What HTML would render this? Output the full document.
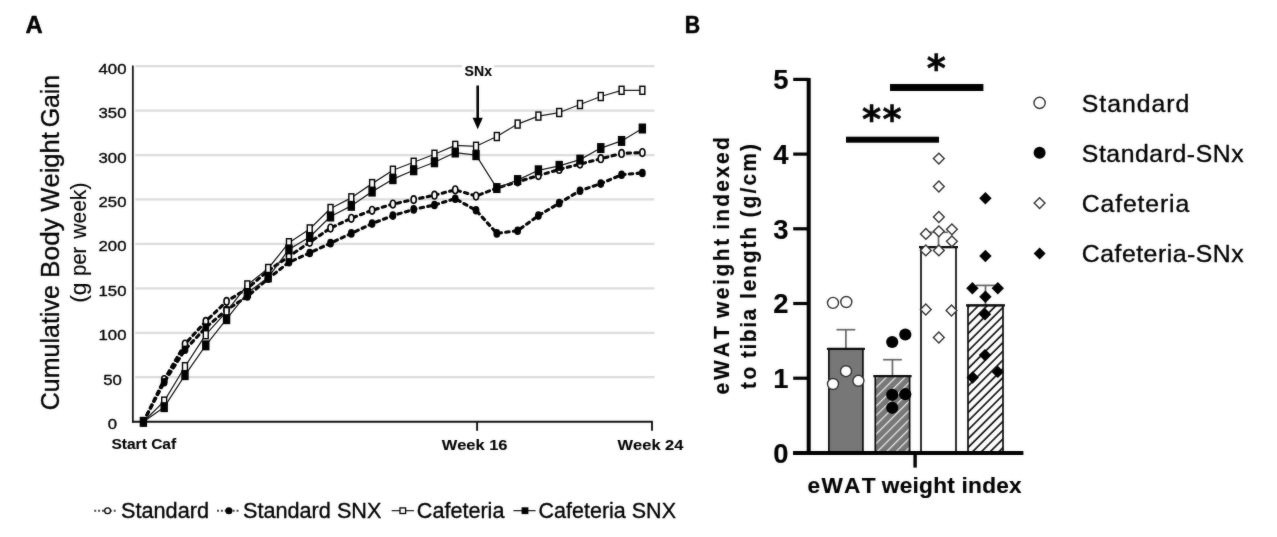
<!DOCTYPE html>
<html lang="en">
<head>
<meta charset="utf-8">
<title>Cumulative body weight gain and eWAT weight index</title>
<style>
html, body { margin: 0; padding: 0; background: #fff; }
body { width: 1277px; height: 537px; overflow: hidden; font-family: "Liberation Sans", sans-serif; }
svg { display: block; }
svg text { font-family: "Liberation Sans", sans-serif; fill: #000; font-kerning: none; stroke: #000; stroke-width: 0.35px; stroke-linejoin: round; }
.panel { font-size: 24.4px; font-weight: bold; stroke-width: 0.5px; }
.ytA { font-size: 15.4px; stroke-width: 0.35px; }
.xlA { font-size: 15.2px; font-weight: bold; stroke-width: 0.1px; }
.ytitleA { font-size: 26.5px; }
.ysubA { font-size: 21.4px; stroke-width: 0.15px; }
.legA { font-size: 22.2px; }
.ytB { font-size: 27.4px; font-weight: bold; stroke-width: 0.15px; }
.xtB { font-size: 21.4px; font-weight: bold; stroke-width: 0.15px; }
.ytitleB { font-size: 21.6px; font-weight: bold; stroke-width: 0.15px; }
.legB { font-size: 24.8px; }
.star { font-family: "DejaVu Sans", "Liberation Sans", sans-serif; font-size: 36.5px; font-weight: bold; stroke: #000; stroke-width: 0.5px; }
</style>
</head>
<body>
<svg width="1277" height="537" viewBox="0 0 1277 537" role="img" aria-label="Figure with panels A and B">
<defs>
<filter id="soft" x="0" y="0" width="1277" height="537" filterUnits="userSpaceOnUse" color-interpolation-filters="sRGB">
<feGaussianBlur in="SourceGraphic" stdDeviation="0.8" result="b"/>
<feComposite in="b" in2="SourceGraphic" operator="arithmetic" k1="0" k2="0.3" k3="0.70" k4="0"/>
</filter>
<pattern id="hatchG" patternUnits="userSpaceOnUse" width="6.6" height="6.6" patternTransform="rotate(45)">
<rect width="6.6" height="6.6" fill="#777777"/>
<rect x="2" y="0" width="1.05" height="6.6" fill="#fff"/>
</pattern>
<pattern id="hatchW" patternUnits="userSpaceOnUse" width="6.2" height="6.2" patternTransform="rotate(45)">
<rect width="6.2" height="6.2" fill="#fff"/>
<rect x="2" y="0" width="1.6" height="6.2" fill="#000"/>
</pattern>
</defs>
<rect width="1277" height="537" fill="#fff"/>
<g filter="url(#soft)">
<rect width="1277" height="537" fill="#fff"/>
<g id="panelA">
<line x1="135.29999999999998" x2="654.5" y1="377.21" y2="377.21" stroke="#dcdcdc" stroke-width="2.3"/>
<line x1="135.29999999999998" x2="654.5" y1="332.78" y2="332.78" stroke="#dcdcdc" stroke-width="2.3"/>
<line x1="135.29999999999998" x2="654.5" y1="288.34" y2="288.34" stroke="#dcdcdc" stroke-width="2.3"/>
<line x1="135.29999999999998" x2="654.5" y1="243.90" y2="243.90" stroke="#dcdcdc" stroke-width="2.3"/>
<line x1="135.29999999999998" x2="654.5" y1="199.46" y2="199.46" stroke="#dcdcdc" stroke-width="2.3"/>
<line x1="135.29999999999998" x2="654.5" y1="155.03" y2="155.03" stroke="#dcdcdc" stroke-width="2.3"/>
<line x1="135.29999999999998" x2="654.5" y1="110.59" y2="110.59" stroke="#dcdcdc" stroke-width="2.3"/>
<line x1="135.29999999999998" x2="654.5" y1="66.15" y2="66.15" stroke="#dcdcdc" stroke-width="2.3"/>
<rect x="462" y="62" width="32" height="17" fill="#fff"/>
<rect x="474.6" y="84" width="6.4" height="36" fill="#fff"/>
<line x1="132.85" x2="132.85" y1="65.6" y2="422.7" stroke="#151515" stroke-width="1.8"/>
<line x1="132.0" x2="652.9" y1="421.8" y2="421.8" stroke="#111" stroke-width="2.1"/>
<line x1="477.1" x2="477.1" y1="421.8" y2="430.8" stroke="#111" stroke-width="1.9"/>
<line x1="652.0" x2="652.0" y1="421.8" y2="430.8" stroke="#111" stroke-width="1.9"/>
<text x="107.85" y="429.20" class="ytA" textLength="9.30" lengthAdjust="spacingAndGlyphs">0</text>
<text x="103.20" y="384.76" class="ytA" textLength="18.60" lengthAdjust="spacingAndGlyphs">50</text>
<text x="98.55" y="340.32" class="ytA" textLength="27.90" lengthAdjust="spacingAndGlyphs">100</text>
<text x="98.55" y="295.89" class="ytA" textLength="27.90" lengthAdjust="spacingAndGlyphs">150</text>
<text x="98.55" y="251.45" class="ytA" textLength="27.90" lengthAdjust="spacingAndGlyphs">200</text>
<text x="98.55" y="207.01" class="ytA" textLength="27.90" lengthAdjust="spacingAndGlyphs">250</text>
<text x="98.55" y="162.58" class="ytA" textLength="27.90" lengthAdjust="spacingAndGlyphs">300</text>
<text x="98.55" y="118.14" class="ytA" textLength="27.90" lengthAdjust="spacingAndGlyphs">350</text>
<text x="98.55" y="73.70" class="ytA" textLength="27.90" lengthAdjust="spacingAndGlyphs">400</text>
<polyline points="143.40,421.80 164.19,379.58 184.98,344.03 205.77,321.37 226.56,301.37 247.35,288.49 268.14,270.71 288.93,256.49 309.72,242.27 330.51,228.05 351.30,218.28 372.09,210.28 392.88,204.06 413.67,199.61 434.46,195.17 455.25,189.84 476.04,196.06 496.83,188.06 517.62,181.84 538.41,175.62 559.20,169.40 579.99,164.06 600.78,158.73 621.57,153.40 642.36,152.51" fill="none" stroke="#000" stroke-width="3.1" stroke-dasharray="3.4 4.3" stroke-linecap="round" stroke-linejoin="round"/>
<ellipse cx="143.40" cy="421.80" rx="2.55" ry="3.8" fill="#fff" stroke="#000" stroke-width="1.65"/>
<ellipse cx="164.19" cy="379.58" rx="2.55" ry="3.8" fill="#fff" stroke="#000" stroke-width="1.65"/>
<ellipse cx="184.98" cy="344.03" rx="2.55" ry="3.8" fill="#fff" stroke="#000" stroke-width="1.65"/>
<ellipse cx="205.77" cy="321.37" rx="2.55" ry="3.8" fill="#fff" stroke="#000" stroke-width="1.65"/>
<ellipse cx="226.56" cy="301.37" rx="2.55" ry="3.8" fill="#fff" stroke="#000" stroke-width="1.65"/>
<ellipse cx="247.35" cy="288.49" rx="2.55" ry="3.8" fill="#fff" stroke="#000" stroke-width="1.65"/>
<ellipse cx="268.14" cy="270.71" rx="2.55" ry="3.8" fill="#fff" stroke="#000" stroke-width="1.65"/>
<ellipse cx="288.93" cy="256.49" rx="2.55" ry="3.8" fill="#fff" stroke="#000" stroke-width="1.65"/>
<ellipse cx="309.72" cy="242.27" rx="2.55" ry="3.8" fill="#fff" stroke="#000" stroke-width="1.65"/>
<ellipse cx="330.51" cy="228.05" rx="2.55" ry="3.8" fill="#fff" stroke="#000" stroke-width="1.65"/>
<ellipse cx="351.30" cy="218.28" rx="2.55" ry="3.8" fill="#fff" stroke="#000" stroke-width="1.65"/>
<ellipse cx="372.09" cy="210.28" rx="2.55" ry="3.8" fill="#fff" stroke="#000" stroke-width="1.65"/>
<ellipse cx="392.88" cy="204.06" rx="2.55" ry="3.8" fill="#fff" stroke="#000" stroke-width="1.65"/>
<ellipse cx="413.67" cy="199.61" rx="2.55" ry="3.8" fill="#fff" stroke="#000" stroke-width="1.65"/>
<ellipse cx="434.46" cy="195.17" rx="2.55" ry="3.8" fill="#fff" stroke="#000" stroke-width="1.65"/>
<ellipse cx="455.25" cy="189.84" rx="2.55" ry="3.8" fill="#fff" stroke="#000" stroke-width="1.65"/>
<ellipse cx="476.04" cy="196.06" rx="2.55" ry="3.8" fill="#fff" stroke="#000" stroke-width="1.65"/>
<ellipse cx="496.83" cy="188.06" rx="2.55" ry="3.8" fill="#fff" stroke="#000" stroke-width="1.65"/>
<ellipse cx="517.62" cy="181.84" rx="2.55" ry="3.8" fill="#fff" stroke="#000" stroke-width="1.65"/>
<ellipse cx="538.41" cy="175.62" rx="2.55" ry="3.8" fill="#fff" stroke="#000" stroke-width="1.65"/>
<ellipse cx="559.20" cy="169.40" rx="2.55" ry="3.8" fill="#fff" stroke="#000" stroke-width="1.65"/>
<ellipse cx="579.99" cy="164.06" rx="2.55" ry="3.8" fill="#fff" stroke="#000" stroke-width="1.65"/>
<ellipse cx="600.78" cy="158.73" rx="2.55" ry="3.8" fill="#fff" stroke="#000" stroke-width="1.65"/>
<ellipse cx="621.57" cy="153.40" rx="2.55" ry="3.8" fill="#fff" stroke="#000" stroke-width="1.65"/>
<ellipse cx="642.36" cy="152.51" rx="2.55" ry="3.8" fill="#fff" stroke="#000" stroke-width="1.65"/>
<polyline points="143.40,421.80 164.19,382.25 184.98,349.81 205.77,327.59 226.56,309.82 247.35,296.49 268.14,278.71 288.93,262.27 309.72,252.94 330.51,243.16 351.30,233.39 372.09,223.61 392.88,215.61 413.67,209.39 434.46,204.95 455.25,198.72 476.04,210.28 496.83,233.39 517.62,230.72 538.41,215.61 559.20,203.17 579.99,190.73 600.78,183.62 621.57,174.73 642.36,172.95" fill="none" stroke="#000" stroke-width="3.1" stroke-dasharray="3.4 4.3" stroke-linecap="round" stroke-linejoin="round"/>
<ellipse cx="143.40" cy="421.80" rx="3.4" ry="4.3" fill="#000"/>
<ellipse cx="164.19" cy="382.25" rx="3.4" ry="4.3" fill="#000"/>
<ellipse cx="184.98" cy="349.81" rx="3.4" ry="4.3" fill="#000"/>
<ellipse cx="205.77" cy="327.59" rx="3.4" ry="4.3" fill="#000"/>
<ellipse cx="226.56" cy="309.82" rx="3.4" ry="4.3" fill="#000"/>
<ellipse cx="247.35" cy="296.49" rx="3.4" ry="4.3" fill="#000"/>
<ellipse cx="268.14" cy="278.71" rx="3.4" ry="4.3" fill="#000"/>
<ellipse cx="288.93" cy="262.27" rx="3.4" ry="4.3" fill="#000"/>
<ellipse cx="309.72" cy="252.94" rx="3.4" ry="4.3" fill="#000"/>
<ellipse cx="330.51" cy="243.16" rx="3.4" ry="4.3" fill="#000"/>
<ellipse cx="351.30" cy="233.39" rx="3.4" ry="4.3" fill="#000"/>
<ellipse cx="372.09" cy="223.61" rx="3.4" ry="4.3" fill="#000"/>
<ellipse cx="392.88" cy="215.61" rx="3.4" ry="4.3" fill="#000"/>
<ellipse cx="413.67" cy="209.39" rx="3.4" ry="4.3" fill="#000"/>
<ellipse cx="434.46" cy="204.95" rx="3.4" ry="4.3" fill="#000"/>
<ellipse cx="455.25" cy="198.72" rx="3.4" ry="4.3" fill="#000"/>
<ellipse cx="476.04" cy="210.28" rx="3.4" ry="4.3" fill="#000"/>
<ellipse cx="496.83" cy="233.39" rx="3.4" ry="4.3" fill="#000"/>
<ellipse cx="517.62" cy="230.72" rx="3.4" ry="4.3" fill="#000"/>
<ellipse cx="538.41" cy="215.61" rx="3.4" ry="4.3" fill="#000"/>
<ellipse cx="559.20" cy="203.17" rx="3.4" ry="4.3" fill="#000"/>
<ellipse cx="579.99" cy="190.73" rx="3.4" ry="4.3" fill="#000"/>
<ellipse cx="600.78" cy="183.62" rx="3.4" ry="4.3" fill="#000"/>
<ellipse cx="621.57" cy="174.73" rx="3.4" ry="4.3" fill="#000"/>
<ellipse cx="642.36" cy="172.95" rx="3.4" ry="4.3" fill="#000"/>
<polyline points="143.40,421.80 164.19,401.18 184.98,366.70 205.77,334.70 226.56,311.60 247.35,284.93 268.14,268.49 288.93,242.72 309.72,228.94 330.51,208.50 351.30,197.84 372.09,183.62 392.88,170.28 413.67,162.29 434.46,154.29 455.25,145.40 476.04,146.29 496.83,136.51 517.62,124.07 538.41,116.07 559.20,112.51 579.99,104.52 600.78,96.52 621.57,90.30 642.36,90.30" fill="none" stroke="#1a1a1a" stroke-width="1.25" stroke-linejoin="round"/>
<rect x="140.95" y="417.80" width="4.9" height="8.0" fill="#fff" stroke="#000" stroke-width="1.45"/>
<rect x="161.74" y="397.18" width="4.9" height="8.0" fill="#fff" stroke="#000" stroke-width="1.45"/>
<rect x="182.53" y="362.70" width="4.9" height="8.0" fill="#fff" stroke="#000" stroke-width="1.45"/>
<rect x="203.32" y="330.70" width="4.9" height="8.0" fill="#fff" stroke="#000" stroke-width="1.45"/>
<rect x="224.11" y="307.60" width="4.9" height="8.0" fill="#fff" stroke="#000" stroke-width="1.45"/>
<rect x="244.90" y="280.93" width="4.9" height="8.0" fill="#fff" stroke="#000" stroke-width="1.45"/>
<rect x="265.69" y="264.49" width="4.9" height="8.0" fill="#fff" stroke="#000" stroke-width="1.45"/>
<rect x="286.48" y="238.72" width="4.9" height="8.0" fill="#fff" stroke="#000" stroke-width="1.45"/>
<rect x="307.27" y="224.94" width="4.9" height="8.0" fill="#fff" stroke="#000" stroke-width="1.45"/>
<rect x="328.06" y="204.50" width="4.9" height="8.0" fill="#fff" stroke="#000" stroke-width="1.45"/>
<rect x="348.85" y="193.84" width="4.9" height="8.0" fill="#fff" stroke="#000" stroke-width="1.45"/>
<rect x="369.64" y="179.62" width="4.9" height="8.0" fill="#fff" stroke="#000" stroke-width="1.45"/>
<rect x="390.43" y="166.28" width="4.9" height="8.0" fill="#fff" stroke="#000" stroke-width="1.45"/>
<rect x="411.22" y="158.29" width="4.9" height="8.0" fill="#fff" stroke="#000" stroke-width="1.45"/>
<rect x="432.01" y="150.29" width="4.9" height="8.0" fill="#fff" stroke="#000" stroke-width="1.45"/>
<rect x="452.80" y="141.40" width="4.9" height="8.0" fill="#fff" stroke="#000" stroke-width="1.45"/>
<rect x="473.59" y="142.29" width="4.9" height="8.0" fill="#fff" stroke="#000" stroke-width="1.45"/>
<rect x="494.38" y="132.51" width="4.9" height="8.0" fill="#fff" stroke="#000" stroke-width="1.45"/>
<rect x="515.17" y="120.07" width="4.9" height="8.0" fill="#fff" stroke="#000" stroke-width="1.45"/>
<rect x="535.96" y="112.07" width="4.9" height="8.0" fill="#fff" stroke="#000" stroke-width="1.45"/>
<rect x="556.75" y="108.51" width="4.9" height="8.0" fill="#fff" stroke="#000" stroke-width="1.45"/>
<rect x="577.54" y="100.52" width="4.9" height="8.0" fill="#fff" stroke="#000" stroke-width="1.45"/>
<rect x="598.33" y="92.52" width="4.9" height="8.0" fill="#fff" stroke="#000" stroke-width="1.45"/>
<rect x="619.12" y="86.30" width="4.9" height="8.0" fill="#fff" stroke="#000" stroke-width="1.45"/>
<rect x="639.91" y="86.30" width="4.9" height="8.0" fill="#fff" stroke="#000" stroke-width="1.45"/>
<polyline points="143.40,421.80 164.19,407.14 184.98,375.14 205.77,345.37 226.56,319.15 247.35,292.93 268.14,277.38 288.93,249.38 309.72,236.94 330.51,216.50 351.30,205.83 372.09,191.61 392.88,179.17 413.67,170.28 434.46,162.29 455.25,152.51 476.04,155.18 496.83,188.06 517.62,180.06 538.41,170.28 559.20,165.84 579.99,159.62 600.78,148.06 621.57,140.95 642.36,128.51" fill="none" stroke="#1a1a1a" stroke-width="1.25" stroke-linejoin="round"/>
<rect x="139.70" y="416.80" width="7.4" height="10.0" fill="#000"/>
<rect x="160.49" y="402.14" width="7.4" height="10.0" fill="#000"/>
<rect x="181.28" y="370.14" width="7.4" height="10.0" fill="#000"/>
<rect x="202.07" y="340.37" width="7.4" height="10.0" fill="#000"/>
<rect x="222.86" y="314.15" width="7.4" height="10.0" fill="#000"/>
<rect x="243.65" y="287.93" width="7.4" height="10.0" fill="#000"/>
<rect x="264.44" y="272.38" width="7.4" height="10.0" fill="#000"/>
<rect x="285.23" y="244.38" width="7.4" height="10.0" fill="#000"/>
<rect x="306.02" y="231.94" width="7.4" height="10.0" fill="#000"/>
<rect x="326.81" y="211.50" width="7.4" height="10.0" fill="#000"/>
<rect x="347.60" y="200.83" width="7.4" height="10.0" fill="#000"/>
<rect x="368.39" y="186.61" width="7.4" height="10.0" fill="#000"/>
<rect x="389.18" y="174.17" width="7.4" height="10.0" fill="#000"/>
<rect x="409.97" y="165.28" width="7.4" height="10.0" fill="#000"/>
<rect x="430.76" y="157.29" width="7.4" height="10.0" fill="#000"/>
<rect x="451.55" y="147.51" width="7.4" height="10.0" fill="#000"/>
<rect x="472.34" y="150.18" width="7.4" height="10.0" fill="#000"/>
<rect x="493.13" y="183.06" width="7.4" height="10.0" fill="#000"/>
<rect x="513.92" y="175.06" width="7.4" height="10.0" fill="#000"/>
<rect x="534.71" y="165.28" width="7.4" height="10.0" fill="#000"/>
<rect x="555.50" y="160.84" width="7.4" height="10.0" fill="#000"/>
<rect x="576.29" y="154.62" width="7.4" height="10.0" fill="#000"/>
<rect x="597.08" y="143.06" width="7.4" height="10.0" fill="#000"/>
<rect x="617.87" y="135.95" width="7.4" height="10.0" fill="#000"/>
<rect x="638.66" y="123.51" width="7.4" height="10.0" fill="#000"/>
<line x1="477.7" x2="477.7" y1="85.5" y2="120" stroke="#000" stroke-width="2.6"/>
<polygon points="472.6,117.8 482.8,117.8 477.7,129.2" fill="#000"/>
<text x="464.6" y="76.2" class="xlA" textLength="27.4" lengthAdjust="spacingAndGlyphs">SNx</text>
<text x="111.4" y="448.9" class="xlA" textLength="64.8" lengthAdjust="spacingAndGlyphs">Start Caf</text>
<text x="441.7" y="450.4" class="xlA" textLength="65.8" lengthAdjust="spacingAndGlyphs">Week 16</text>
<text x="617.6" y="450.4" class="xlA" textLength="65.8" lengthAdjust="spacingAndGlyphs">Week 24</text>
<text transform="translate(59.3,0) rotate(-90)" y="0" class="ytitleA"><tspan x="-410.30" textLength="125.10" lengthAdjust="spacingAndGlyphs">Cumulative</tspan> <tspan x="-277.90" textLength="59.80" lengthAdjust="spacingAndGlyphs">Body</tspan> <tspan x="-211.70" textLength="79.60" lengthAdjust="spacingAndGlyphs">Weight</tspan> <tspan x="-127.30" textLength="52.50" lengthAdjust="spacingAndGlyphs">Gain</tspan></text>
<text transform="translate(85.8,0) rotate(-90)" y="0" class="ysubA"><tspan x="-302.80" textLength="20.40" lengthAdjust="spacingAndGlyphs">(g</tspan> <tspan x="-275.70" textLength="28.90" lengthAdjust="spacingAndGlyphs">per</tspan> <tspan x="-238.80" textLength="56.20" lengthAdjust="spacingAndGlyphs">week)</tspan></text>
<text x="25.4" y="33.0" class="panel" textLength="17.2" lengthAdjust="spacingAndGlyphs">A</text>
<line x1="94.2" x2="117.2" y1="510.7" y2="510.7" stroke="#444" stroke-width="2.0" stroke-dasharray="2.0 1.9"/><circle cx="107.6" cy="510.7" r="2.9" fill="#fff" stroke="#000" stroke-width="1.3"/>
<text x="121.0" y="517.5" class="legA" textLength="88.0" lengthAdjust="spacingAndGlyphs">Standard</text>
<line x1="217" x2="239.8" y1="510.7" y2="510.7" stroke="#444" stroke-width="2.0" stroke-dasharray="2.0 1.9"/><circle cx="228.9" cy="510.7" r="3.5" fill="#000"/>
<text x="243.0" y="517.5" class="legA" textLength="138.4" lengthAdjust="spacingAndGlyphs">Standard SNX</text>
<line x1="391.6" x2="414" y1="510.7" y2="510.7" stroke="#000" stroke-width="1.1"/><rect x="400.0" y="507.9" width="5.6" height="5.6" fill="#fff" stroke="#000" stroke-width="1.3"/>
<text x="416.8" y="517.5" class="legA" textLength="87.6" lengthAdjust="spacingAndGlyphs">Cafeteria</text>
<line x1="513.4" x2="535.6" y1="510.7" y2="510.7" stroke="#000" stroke-width="1.1"/><rect x="521.6" y="507.3" width="6.8" height="6.8" fill="#000"/>
<text x="538.6" y="517.5" class="legA" textLength="137.4" lengthAdjust="spacingAndGlyphs">Cafeteria SNX</text>
</g>
<g id="panelB">
<text x="684.8" y="33.0" class="panel" textLength="15.4" lengthAdjust="spacingAndGlyphs">B</text>
<line x1="845.90" x2="845.90" y1="348.9" y2="329.7" stroke="#666" stroke-width="1.7"/>
<line x1="836.50" x2="855.30" y1="329.7" y2="329.7" stroke="#666" stroke-width="1.7"/>
<rect x="828.9" y="348.9" width="34.00" height="104.00" fill="#777777" stroke="#0a0a0a" stroke-width="1.7"/>
<line x1="826.90" x2="864.90" y1="348.9" y2="348.9" stroke="#0a0a0a" stroke-width="2.2"/>
<line x1="892.45" x2="892.45" y1="376.1" y2="359.7" stroke="#666" stroke-width="1.7"/>
<line x1="883.05" x2="901.85" y1="359.7" y2="359.7" stroke="#666" stroke-width="1.7"/>
<rect x="875.3" y="376.1" width="34.30" height="76.80" fill="url(#hatchG)" stroke="#0a0a0a" stroke-width="1.7"/>
<line x1="873.30" x2="911.60" y1="376.1" y2="376.1" stroke="#0a0a0a" stroke-width="2.2"/>
<line x1="938.50" x2="938.50" y1="247.2" y2="232.3" stroke="#666" stroke-width="1.7"/>
<line x1="929.10" x2="947.90" y1="232.3" y2="232.3" stroke="#666" stroke-width="1.7"/>
<rect x="921.0" y="247.2" width="35.00" height="205.70" fill="#fff" stroke="#0a0a0a" stroke-width="1.7"/>
<line x1="919.00" x2="958.00" y1="247.2" y2="247.2" stroke="#0a0a0a" stroke-width="2.2"/>
<line x1="985.50" x2="985.50" y1="305.4" y2="285.4" stroke="#666" stroke-width="1.7"/>
<line x1="976.10" x2="994.90" y1="285.4" y2="285.4" stroke="#666" stroke-width="1.7"/>
<rect x="968.0" y="305.4" width="35.00" height="147.50" fill="url(#hatchW)" stroke="#0a0a0a" stroke-width="1.7"/>
<line x1="966.00" x2="1005.00" y1="305.4" y2="305.4" stroke="#0a0a0a" stroke-width="2.2"/>
<line x1="808.7" x2="808.7" y1="78.00" y2="454.9" stroke="#000" stroke-width="4.0"/>
<line x1="793" x2="1023.4" y1="452.9" y2="452.9" stroke="#000" stroke-width="4.0"/>
<line x1="793.2" x2="808.7" y1="378.20" y2="378.20" stroke="#000" stroke-width="3.2"/>
<line x1="793.2" x2="808.7" y1="303.50" y2="303.50" stroke="#000" stroke-width="3.2"/>
<line x1="793.2" x2="808.7" y1="228.80" y2="228.80" stroke="#000" stroke-width="3.2"/>
<line x1="793.2" x2="808.7" y1="154.10" y2="154.10" stroke="#000" stroke-width="3.2"/>
<line x1="793.2" x2="808.7" y1="79.40" y2="79.40" stroke="#000" stroke-width="3.2"/>
<text x="788.4" y="462.60" class="ytB" text-anchor="end">0</text>
<text x="788.4" y="387.90" class="ytB" text-anchor="end">1</text>
<text x="788.4" y="313.20" class="ytB" text-anchor="end">2</text>
<text x="788.4" y="238.50" class="ytB" text-anchor="end">3</text>
<text x="788.4" y="163.80" class="ytB" text-anchor="end">4</text>
<text x="788.4" y="89.10" class="ytB" text-anchor="end">5</text>
<line x1="915.1" x2="915.1" y1="452.9" y2="467.6" stroke="#000" stroke-width="3.4"/>
<text y="492.8" class="xtB" transform="scale(1.06,1)"><tspan x="761.89" textLength="64.15" lengthAdjust="spacing">eWAT</tspan> <tspan x="831.89" textLength="68.87" lengthAdjust="spacing">weight</tspan> <tspan x="907.17" textLength="56.60" lengthAdjust="spacing">index</tspan></text>
<text transform="translate(728.6,394.6) rotate(-90) scale(0.97,1)" x="0" y="0" class="ytitleB" textLength="70.52" lengthAdjust="spacing">eWAT</text>
<text transform="translate(728.6,318.0) rotate(-90) scale(0.97,1)" x="0" y="0" class="ytitleB" textLength="81.65" lengthAdjust="spacing">weight</text>
<text transform="translate(728.6,229.8) rotate(-90) scale(0.97,1)" x="0" y="0" class="ytitleB" textLength="95.46" lengthAdjust="spacing">indexed</text>
<text transform="translate(756.2,389.0) rotate(-90) scale(0.97,1)" x="0" y="0" class="ytitleB" textLength="22.89" lengthAdjust="spacing">to</text>
<text transform="translate(756.2,358.0) rotate(-90) scale(0.97,1)" x="0" y="0" class="ytitleB" textLength="50.72" lengthAdjust="spacing">tibia</text>
<text transform="translate(756.2,299.0) rotate(-90) scale(0.97,1)" x="0" y="0" class="ytitleB" textLength="74.23" lengthAdjust="spacing">length</text>
<text transform="translate(756.2,217.5) rotate(-90) scale(0.97,1)" x="0" y="0" class="ytitleB" textLength="75.77" lengthAdjust="spacing">(g/cm)</text>
<circle cx="833.0" cy="302.9" r="5.5" fill="#fff" stroke="#333" stroke-width="1.4"/>
<circle cx="846.3" cy="302.0" r="5.5" fill="#fff" stroke="#333" stroke-width="1.4"/>
<circle cx="846.0" cy="371.2" r="5.5" fill="#fff" stroke="#333" stroke-width="1.4"/>
<circle cx="833.0" cy="384.0" r="5.5" fill="#fff" stroke="#333" stroke-width="1.4"/>
<circle cx="858.4" cy="380.8" r="5.5" fill="#fff" stroke="#333" stroke-width="1.4"/>
<circle cx="892.2" cy="342.0" r="6.1" fill="#000"/>
<circle cx="905.3" cy="334.5" r="6.1" fill="#000"/>
<circle cx="892.2" cy="394.8" r="6.1" fill="#000"/>
<circle cx="905.3" cy="394.2" r="6.1" fill="#000"/>
<circle cx="892.2" cy="407.8" r="6.1" fill="#000"/>
<polygon points="933.45,158.6 938.85,153.2 944.25,158.6 938.85,164.0" fill="#fff" stroke="#333" stroke-width="1.4"/>
<polygon points="933.45,186.5 938.85,181.1 944.25,186.5 938.85,191.9" fill="#fff" stroke="#333" stroke-width="1.4"/>
<polygon points="933.45,217.0 938.85,211.6 944.25,217.0 938.85,222.4" fill="#fff" stroke="#333" stroke-width="1.4"/>
<polygon points="920.5,233.9 925.9,228.5 931.3,233.9 925.9,239.3" fill="#fff" stroke="#333" stroke-width="1.4"/>
<polygon points="933.45,231.3 938.85,225.9 944.25,231.3 938.85,236.70000000000002" fill="#fff" stroke="#333" stroke-width="1.4"/>
<polygon points="946.5,229.3 951.9,223.9 957.3,229.3 951.9,234.70000000000002" fill="#fff" stroke="#333" stroke-width="1.4"/>
<polygon points="946.5,241.3 951.9,235.9 957.3,241.3 951.9,246.70000000000002" fill="#fff" stroke="#333" stroke-width="1.4"/>
<polygon points="920.4,250.4 925.8,245.0 931.1999999999999,250.4 925.8,255.8" fill="#fff" stroke="#333" stroke-width="1.4"/>
<polygon points="933.45,250.4 938.85,245.0 944.25,250.4 938.85,255.8" fill="#fff" stroke="#333" stroke-width="1.4"/>
<polygon points="920.4,309.5 925.8,304.1 931.1999999999999,309.5 925.8,314.9" fill="#fff" stroke="#333" stroke-width="1.4"/>
<polygon points="946.1,310.5 951.5,305.1 956.9,310.5 951.5,315.9" fill="#fff" stroke="#333" stroke-width="1.4"/>
<polygon points="933.45,337.5 938.85,332.1 944.25,337.5 938.85,342.9" fill="#fff" stroke="#333" stroke-width="1.4"/>
<polygon points="979.1999999999999,198.3 985.4,192.10000000000002 991.6,198.3 985.4,204.5" fill="#000"/>
<polygon points="979.1999999999999,256.0 985.4,249.8 991.6,256.0 985.4,262.2" fill="#000"/>
<polygon points="966.1999999999999,288.2 972.4,282.0 978.6,288.2 972.4,294.4" fill="#000"/>
<polygon points="991.5999999999999,288.2 997.8,282.0 1004.0,288.2 997.8,294.4" fill="#000"/>
<polygon points="979.1999999999999,296.8 985.4,290.6 991.6,296.8 985.4,303.0" fill="#000"/>
<polygon points="978.8,314.2 985.0,308.0 991.2,314.2 985.0,320.4" fill="#000"/>
<polygon points="978.8,355.1 985.0,348.90000000000003 991.2,355.1 985.0,361.3" fill="#000"/>
<polygon points="966.5,377.5 972.7,371.3 978.9000000000001,377.5 972.7,383.7" fill="#000"/>
<polygon points="991.5999999999999,371.9 997.8,365.7 1004.0,371.9 997.8,378.09999999999997" fill="#000"/>
<rect x="846.0" y="136.7" width="93.0" height="6.0" fill="#000"/>
<rect x="890.0" y="84.0" width="93.4" height="7.0" fill="#000"/>
<text x="871.5 892.0" y="132.0" class="star" text-anchor="middle">**</text>
<text x="936.3" y="80.8" class="star" text-anchor="middle">*</text>
<circle cx="1039.6" cy="102.9" r="5.6" fill="#fff" stroke="#333" stroke-width="1.4"/>
<circle cx="1039.6" cy="152.8" r="6.0" fill="#000"/>
<polygon points="1034.1999999999998,203.1 1039.6,197.7 1045.0,203.1 1039.6,208.5" fill="#fff" stroke="#333" stroke-width="1.4"/>
<polygon points="1033.6,253.4 1039.6,247.4 1045.6,253.4 1039.6,259.4" fill="#000"/>
<text x="1081.8" y="111.6" class="legB" textLength="107.4" lengthAdjust="spacing">Standard</text>
<text x="1081.8" y="161.5" class="legB" textLength="161.8" lengthAdjust="spacing">Standard-SNx</text>
<text x="1081.8" y="211.6" class="legB" textLength="107.4" lengthAdjust="spacing">Cafeteria</text>
<text x="1081.8" y="261.5" class="legB" textLength="161.8" lengthAdjust="spacing">Cafeteria-SNx</text>
</g>
</g>
</svg>
</body>
</html>
